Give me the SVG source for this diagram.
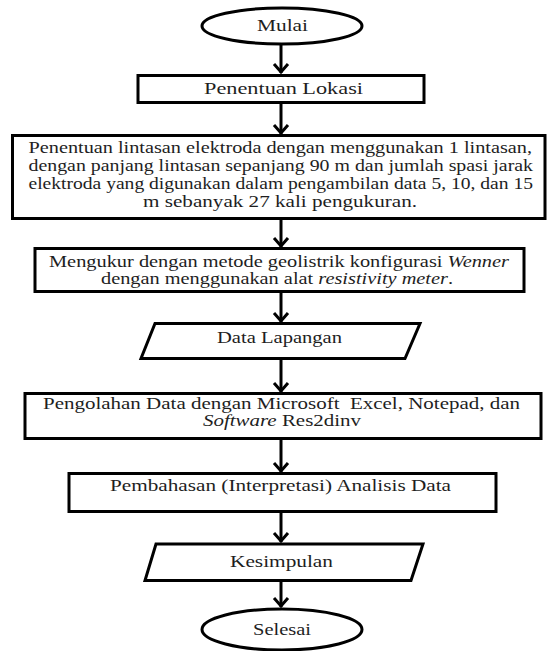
<svg xmlns="http://www.w3.org/2000/svg" width="555" height="651" viewBox="0 0 555 651">
<defs>
<style>
.sh{fill:#fff;stroke:#000;stroke-width:3}
.t{font-size:16px;fill:#1e1e1e}
.i{font-style:italic}
.cn{stroke:#000;stroke-width:3;fill:none;marker-end:url(#ah)}
</style>
<marker id="ah" markerUnits="userSpaceOnUse" markerWidth="20" markerHeight="20" viewBox="-12 -10 16 20" refX="1" refY="0" orient="auto">
<path d="M-8,-7 L0,0 L-8,7" fill="none" stroke="#000" stroke-width="3"/>
</marker>
</defs>
<rect width="555" height="651" fill="#fff"/>
<g id="connectors">
<line class="cn" x1="281" y1="44" x2="281" y2="73"/>
<line class="cn" x1="281" y1="102" x2="281" y2="134"/>
<line class="cn" x1="281" y1="219" x2="281" y2="247"/>
<line class="cn" x1="281" y1="292" x2="281" y2="322"/>
<line class="cn" x1="281" y1="359" x2="281" y2="392"/>
<line class="cn" x1="281" y1="439" x2="281" y2="472"/>
<line class="cn" x1="281" y1="512" x2="281" y2="542"/>
<line class="cn" x1="281" y1="581" x2="281" y2="607"/>
</g>
<g id="mulai">
<ellipse class="sh" cx="282" cy="26" rx="80" ry="18"/>
<text class="t" font-family="Liberation Serif" x="257" y="30.5" textLength="51" lengthAdjust="spacingAndGlyphs">Mulai</text>
</g>
<g id="lokasi">
<rect class="sh" x="138" y="75.5" width="286" height="27"/>
<text class="t" font-family="Liberation Serif" x="204" y="94" textLength="159" lengthAdjust="spacingAndGlyphs">Penentuan Lokasi</text>
</g>
<g id="lintasan">
<rect class="sh" x="12.5" y="135.5" width="532.5" height="83"/>
<text class="t" font-family="Liberation Serif" x="28.5" y="152.5" textLength="503.5" lengthAdjust="spacingAndGlyphs">Penentuan lintasan elektroda dengan menggunakan 1 lintasan,</text>
<text class="t" font-family="Liberation Serif" x="28.5" y="170.5" textLength="504.5" lengthAdjust="spacingAndGlyphs">dengan panjang lintasan sepanjang 90 m dan jumlah spasi jarak</text>
<text class="t" font-family="Liberation Serif" x="28.5" y="188.5" textLength="504.5" lengthAdjust="spacingAndGlyphs">elektroda yang digunakan dalam pengambilan data 5, 10, dan 15</text>
<text class="t" font-family="Liberation Serif" x="143" y="207" textLength="274" lengthAdjust="spacingAndGlyphs">m sebanyak 27 kali pengukuran.</text>
</g>
<g id="mengukur">
<rect class="sh" x="35" y="248.5" width="489" height="43"/>
<text class="t" font-family="Liberation Serif" x="49" y="266.5" textLength="460" lengthAdjust="spacingAndGlyphs">Mengukur dengan metode geolistrik konfigurasi <tspan class="i">Wenner</tspan></text>
<text class="t" font-family="Liberation Serif" x="101" y="284" textLength="352" lengthAdjust="spacingAndGlyphs">dengan menggunakan alat <tspan class="i">resistivity meter</tspan>.</text>
</g>
<g id="data-lapangan">
<polygon class="sh" points="155,323.5 420,323.5 405,358.5 141,358.5"/>
<text class="t" font-family="Liberation Serif" x="217" y="343" textLength="125" lengthAdjust="spacingAndGlyphs">Data Lapangan</text>
</g>
<g id="pengolahan">
<rect class="sh" x="25" y="393.5" width="516" height="45"/>
<text class="t" font-family="Liberation Serif" x="43" y="409" textLength="477" lengthAdjust="spacingAndGlyphs">Pengolahan Data dengan Microsoft&#160; Excel, Notepad, dan</text>
<text class="t" font-family="Liberation Serif" x="203" y="426" textLength="158" lengthAdjust="spacingAndGlyphs"><tspan class="i">Software</tspan> Res2dinv</text>
</g>
<g id="pembahasan">
<rect class="sh" x="69" y="473.5" width="427" height="38"/>
<text class="t" font-family="Liberation Serif" x="110" y="491" textLength="341" lengthAdjust="spacingAndGlyphs">Pembahasan (Interpretasi) Analisis Data</text>
</g>
<g id="kesimpulan">
<polygon class="sh" points="156,544 423,544 411,580.5 145,580.5"/>
<text class="t" font-family="Liberation Serif" x="230" y="566.5" textLength="103" lengthAdjust="spacingAndGlyphs">Kesimpulan</text>
</g>
<g id="selesai">
<ellipse class="sh" cx="282" cy="629.5" rx="80" ry="20.5"/>
<text class="t" font-family="Liberation Serif" x="253" y="634.5" textLength="58" lengthAdjust="spacingAndGlyphs">Selesai</text>
</g>
</svg>
